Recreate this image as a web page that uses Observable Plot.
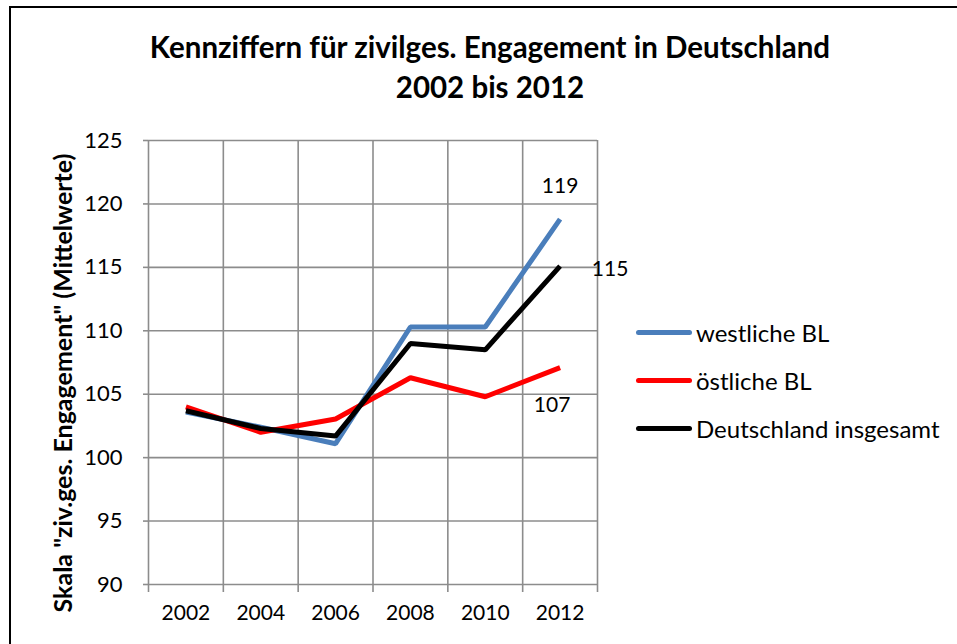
<!DOCTYPE html>
<html><head><meta charset="utf-8">
<script src="https://cdn.jsdelivr.net/npm/d3@7"></script>
<script src="https://cdn.jsdelivr.net/npm/@observablehq/plot@0.6"></script>
<style>
body{margin:0;background:#fff;font-family:Lato,"Open Sans",sans-serif;}
#wrap{position:relative;width:957px;height:644px;overflow:hidden;background:#fff;}
#frame{position:absolute;left:9px;top:6px;width:1000px;height:700px;border-left:2px solid #000;border-top:2px solid #000;box-sizing:border-box;pointer-events:none;}
#title{height:120px;box-sizing:border-box;padding-top:27px;padding-left:23px;text-align:center;font-weight:bold;font-size:29.5px;line-height:40px;color:#000;}
#ylab{position:absolute;left:62px;top:383px;transform:translate(-50%,-50%) rotate(-90deg);white-space:nowrap;font-weight:bold;font-size:25px;color:#000;}
.leg{position:absolute;left:636px;display:flex;align-items:center;font-size:24px;color:#000;white-space:nowrap;height:24px;}
.sw{width:56px;height:5px;border-radius:3px;margin-right:4px;}
#chart{position:absolute;left:0;top:120px;}
</style></head>
<body>
<div id="wrap">
<div id="title"></div>
<div id="chart"></div>
<div id="ylab"></div>
<div id="legend"></div>
<div id="frame"></div>
</div>
<script>
const titleLines = ["Kennziffern für zivilges. Engagement in Deutschland", "2002 bis 2012"];
const yLabel = 'Skala "ziv.ges. Engagement" (Mittelwerte)';
const years = [2002, 2004, 2006, 2008, 2010, 2012];
const seriesNames = ["westliche BL", "östliche BL", "Deutschland insgesamt"];
const seriesColors = ["#4a7ebb", "#ff0000", "#000000"];
const west = [103.6, 102.4, 101.1, 110.3, 110.3, 118.8];
const east = [104.0, 102.0, 103.05, 106.3, 104.8, 107.1];
const total = [103.7, 102.3, 101.7, 109.0, 108.5, 115.1];
const yTicks = [90, 95, 100, 105, 110, 115, 120, 125];
const endLabels = ["119", "107", "115"];

document.getElementById("title").innerHTML = titleLines.join("<br>");
document.getElementById("ylab").textContent = yLabel;
const leg = document.getElementById("legend");
seriesNames.forEach((n, i) => {
  const d = document.createElement("div");
  d.className = "leg";
  d.style.top = (332 + 48 * i - 12) + "px";
  d.innerHTML = `<div class="sw" style="background:${seriesColors[i]}"></div><span>${n}</span>`;
  leg.appendChild(d);
});

const seriesVals = [west, east, total];
const rows = [];
seriesVals.forEach((vals, s) => vals.forEach((v, i) => rows.push({year: years[i], value: v, series: seriesNames[s]})));
const gridXs = [years[0] - 1, ...years.map(y => y + 1)];
const labelRows = seriesVals.map((vals, s) => ({year: years[years.length - 1], value: vals[vals.length - 1], text: endLabels[s], s}));

const grid = "#8c8c8c";
const chart = Plot.plot({
  width: 957,
  height: 524,
  marginTop: 20,
  marginBottom: 60,
  marginLeft: 148,
  marginRight: 360,
  style: {fontFamily: "Lato, 'Open Sans', sans-serif", fontSize: "22px", color: "#000", background: "transparent"},
  x: {type: "linear", domain: [years[0] - 1, years[years.length - 1] + 1]},
  y: {domain: [90, 125]},
  color: {domain: seriesNames, range: seriesColors},
  marks: [
    Plot.gridY(yTicks, {stroke: grid, strokeOpacity: 1, strokeWidth: 1.6}),
    Plot.gridX(gridXs, {stroke: grid, strokeOpacity: 1, strokeWidth: 1.6}),
    Plot.axisY({ticks: yTicks, tickSize: 5, stroke: grid, strokeWidth: 1.6, tickPadding: 21, label: null, fontSize: 22}),
    Plot.axisX({ticks: gridXs, tickSize: 8, stroke: grid, strokeWidth: 1.6, tickFormat: () => "", label: null}),
    Plot.axisX({ticks: years, tickSize: 0, tickPadding: 21, tickFormat: d => String(d), label: null, fontSize: 21}),
    Plot.line(rows, {x: "year", y: "value", z: "series", stroke: "series", strokeWidth: 5, strokeLinejoin: "miter", strokeLinecap: "butt"}),
    Plot.text(labelRows.filter(d => d.s === 0), {x: "year", y: "value", text: "text", dy: -33, fontSize: 21}),
    Plot.text(labelRows.filter(d => d.s === 1), {x: "year", y: "value", text: "text", dx: -8, dy: 38, fontSize: 21}),
    Plot.text(labelRows.filter(d => d.s === 2), {x: "year", y: "value", text: "text", dx: 50, dy: 3, fontSize: 21})
  ]
});
document.getElementById("chart").appendChild(chart);
</script>
</body></html>
